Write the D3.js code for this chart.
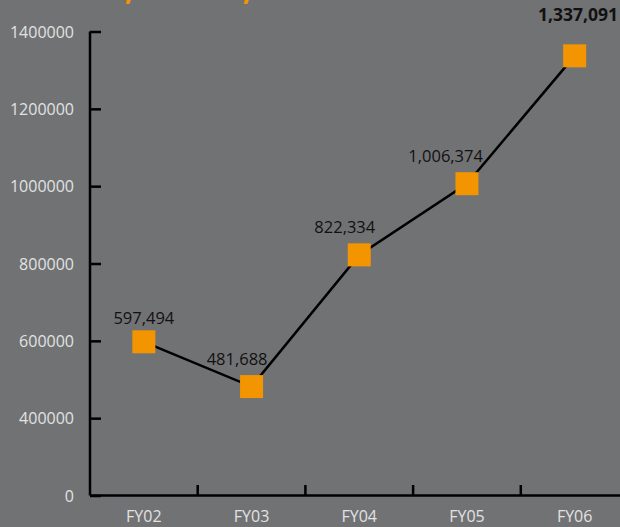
<!DOCTYPE html>
<html>
<head>
<meta charset="utf-8">
<script src="https://cdn.jsdelivr.net/npm/d3@7/dist/d3.min.js"></script>
<style>
  html, body { margin: 0; padding: 0; background: #717274; overflow: hidden; }
  svg { display: block; }
</style>
</head>
<body>
<script>
const categories = ["FY02", "FY03", "FY04", "FY05", "FY06"];
const values = [597494, 481688, 822334, 1006374, 1337091];
const valueLabels = ["597,494", "481,688", "822,334", "1,006,374", "1,337,091"];
const tickValues = [200000, 400000, 600000, 800000, 1000000, 1200000, 1400000];
const tickLabels = ["0", "400000", "600000", "800000", "1000000", "1200000", "1400000"];

const W = 620, H = 527;
const bg = "#717274", orange = "#f39500";

const svg = d3.select("body").append("svg").attr("width", W).attr("height", H);
svg.append("rect").attr("width", W).attr("height", H).attr("fill", bg);

// clipped title remnants (orange)
svg.selectAll("text.ttl").data([129, 247]).join("text")
  .attr("class", "ttl")
  .attr("x", d => d).attr("y", 0)
  .attr("font-family", "Open Sans").attr("font-weight", "bold").attr("font-size", 30)
  .attr("fill", orange).attr("text-anchor", "middle")
  .text(",");

const x = d3.scaleBand().domain(categories).range([90, 628.5]).padding(0);
const y = d3.scaleLinear().domain([200000, 1400000]).range([495.5, 31.5]);

// Y axis
const yAxis = d3.axisRight(y).tickValues(tickValues).tickSize(11).tickFormat("");
const gy = svg.append("g").attr("transform", "translate(90,0)").call(yAxis);
gy.select(".domain").attr("stroke", "#000").attr("stroke-width", 2.5).attr("d", `M0,${y(1400000)}V${y(200000)}`);
gy.selectAll(".tick line").attr("stroke", "#000").attr("stroke-width", 2.5);
svg.selectAll("text.ylab").data(tickValues).join("text")
  .attr("class", "ylab")
  .attr("x", 74).attr("y", d => y(d) + 6)
  .attr("text-anchor", "end")
  .attr("font-family", "Open Sans").attr("font-size", 16)
  .attr("fill", "#e2e2e2")
  .text((d, i) => tickLabels[i]);

// X axis
const boundaries = categories.map(c => x(c) + x.bandwidth());
const gx = svg.append("g");
gx.append("line").attr("x1", 90).attr("x2", W).attr("y1", 495.5).attr("y2", 495.5)
  .attr("stroke", "#000").attr("stroke-width", 2.5);
gx.selectAll("line.xt").data(boundaries).join("line")
  .attr("class", "xt")
  .attr("x1", d => d).attr("x2", d => d).attr("y1", 495.5).attr("y2", 485)
  .attr("stroke", "#000").attr("stroke-width", 2.5);
gx.selectAll("text").data(categories).join("text")
  .attr("x", d => x(d) + x.bandwidth() / 2).attr("y", 521.5)
  .attr("text-anchor", "middle")
  .attr("font-family", "Open Sans").attr("font-size", 16)
  .attr("fill", "#e2e2e2")
  .text(d => d);

// line
const cx = (d, i) => x(categories[i]) + x.bandwidth() / 2;
const line = d3.line().x((d, i) => cx(d, i)).y(d => y(d));
svg.append("path").datum(values).attr("d", line)
  .attr("fill", "none").attr("stroke", "#000").attr("stroke-width", 2.5);

// markers
const S = 23;
svg.selectAll("rect.mk").data(values).join("rect")
  .attr("class", "mk")
  .attr("x", (d, i) => cx(d, i) - S / 2).attr("y", d => y(d) - S / 2)
  .attr("width", S).attr("height", S).attr("fill", orange);

// value labels
const last = values.length - 1;
svg.selectAll("text.vl").data(values).join("text")
  .attr("class", "vl")
  .attr("x", (d, i) => i === 0 ? cx(d, i) : (i === last ? W - 2 : cx(d, i) + 16))
  .attr("y", (d, i) => y(d) - (i === 0 ? 18 : (i === last ? 35 : 22)))
  .attr("text-anchor", (d, i) => i === 0 ? "middle" : "end")
  .attr("font-family", "Open Sans")
  .attr("font-size", (d, i) => i === last ? 17.5 : 16.5)
  .attr("font-weight", (d, i) => i === last ? "bold" : "normal")
  .attr("fill", "#111")
  .text((d, i) => valueLabels[i]);
</script>
</body>
</html>
